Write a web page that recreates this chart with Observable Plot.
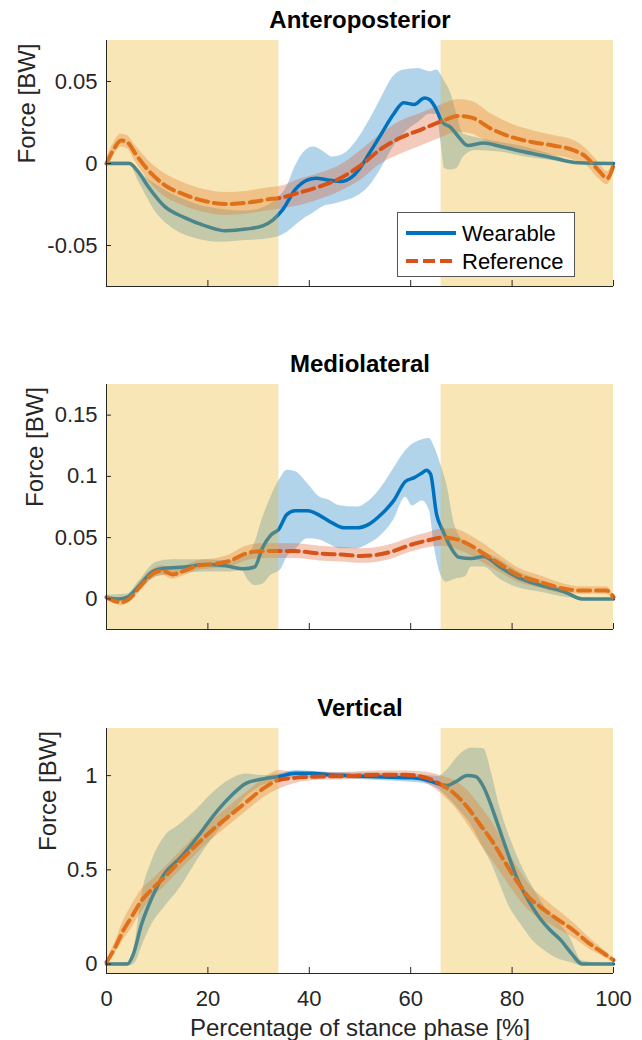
<!DOCTYPE html>
<html>
<head>
<meta charset="utf-8">
<script src="https://cdn.jsdelivr.net/npm/d3@7"></script>
<script src="https://cdn.jsdelivr.net/npm/@observablehq/plot@0.6"></script>
<style>
  body { margin: 0; background: #fff; }
  #chart { position: relative; width: 642px; height: 1040px; font-family: "Liberation Sans", Arial, Helvetica, sans-serif; }
  #chart > svg { position: absolute; left: 0; overflow: visible; }
  #legend { position: absolute; background: #fff; border: 1px solid #555; box-sizing: border-box; }
</style>
</head>
<body>
<div id="chart"></div>
<script>
// ---------- labels ----------
const titles = ["Anteroposterior", "Mediolateral", "Vertical"];
const yLabel = "Force [BW]";
const xLabel = "Percentage of stance phase [%]";
const legendLabels = ["Wearable", "Reference"];
const xTicks = [0, 20, 40, 60, 80, 100];
const apTicks = [-0.05, 0, 0.05];
const mlTicks = [0, 0.05, 0.1, 0.15];
const vTicks = [0, 0.5, 1];
const shadeStart = [0, 66];
const shadeEnd = [34, 100];

// ---------- Anteroposterior ----------
const apWearX = [0,4.5,6,8.2,11.4,15.4,19.5,23.5,27.5,30.8,32.8,34.8,37.2,39.7,41.3,43.7,46.1,48.5,50.2,51.8,54.2,56.6,58.6,60.7,62.7,63.7,64.7,66.3,67.9,69.5,71.2,74.4,77.6,82.5,87.3,93,100];
const apWearY = [0,0,-0.004,-0.014,-0.026,-0.033,-0.038,-0.041,-0.040,-0.038,-0.0345,-0.028,-0.016,-0.010,-0.009,-0.010,-0.011,-0.008,-0.002,0.006,0.018,0.030,0.037,0.036,0.040,0.039,0.035,0.025,0.022,0.016,0.011,0.0125,0.0105,0.007,0.004,0.0004,0];
const apWearBandX = [0,4.5,6.5,9.8,13.8,17.9,22.7,27.5,31.6,33.5,35.6,37.2,39.3,40.9,42.9,44.5,46.9,49.4,51.8,54.2,56.6,58.6,61.5,63.9,65.2,66.0,66.7,67.9,69.1,70.4,72.7,77.6,82.5,87.3,93,100];
const apWearLo = [-0.001,-0.001,-0.012,-0.030,-0.041,-0.046,-0.048,-0.047,-0.046,-0.045,-0.042,-0.038,-0.033,-0.030,-0.026,-0.025,-0.023,-0.020,-0.014,-0.003,0.010,0.018,0.025,0.030,0.030,0.012,-0.003,-0.004,-0.003,0.004,0.008,0.007,0.004,0.002,0,0];
const apWearHi = [0.001,0.001,-0.005,-0.013,-0.020,-0.025,-0.028,-0.029,-0.026,-0.022,-0.014,-0.002,0.008,0.010,0.007,0.004,0.006,0.014,0.026,0.040,0.053,0.057,0.058,0.056,0.057,0.054,0.050,0.043,0.030,0.018,0.016,0.013,0.010,0.006,0.001,0];
const apRefX = [0,1.3,2.9,4.1,5.7,8.2,11.4,15.4,19.5,23.5,27.5,31.6,34.8,38,42.1,46.1,50.2,54.2,58.2,62.3,66.3,69.5,72,76,80,84.1,88.1,92.2,94.6,97,98.8,100];
const apRefY = [0,0.008,0.014,0.013,0.006,-0.004,-0.013,-0.019,-0.023,-0.0247,-0.024,-0.022,-0.0206,-0.0178,-0.014,-0.009,-0.001,0.009,0.016,0.021,0.026,0.029,0.028,0.021,0.016,0.013,0.011,0.008,0.004,-0.004,-0.009,-0.001];
const apRefSd = [0.003,0.004,0.004,0.004,0.005,0.006,0.007,0.007,0.007,0.007,0.007,0.007,0.007,0.008,0.008,0.008,0.009,0.009,0.010,0.010,0.010,0.010,0.010,0.009,0.008,0.007,0.006,0.006,0.005,0.005,0.004,0.003];

// ---------- Mediolateral ----------
const mlWearX = [0,2.5,4.1,6.5,9,11.4,15.4,19.5,23.5,27.1,29.2,30.8,32.4,34,35.6,37.2,39.7,42.1,44.5,46.9,49.4,51.8,54.2,56.6,59,60.7,62.3,63.1,63.9,65.1,66.3,67.9,69.5,72,74.4,77.6,80.9,85.7,90.5,93.8,100];
const mlWearY = [0.001,0,0.0014,0.011,0.022,0.025,0.026,0.028,0.027,0.0245,0.026,0.042,0.052,0.057,0.069,0.072,0.072,0.068,0.062,0.058,0.058,0.061,0.069,0.080,0.096,0.099,0.103,0.105,0.102,0.069,0.056,0.042,0.034,0.033,0.0345,0.026,0.018,0.011,0.0054,0,0];
const mlWearBandX = [0,4.1,6.5,9.8,13,19.5,24.3,26.7,28,29.2,30.8,32.4,34.4,35.6,37.2,39.7,42.1,43.7,46.1,49.4,51.8,54.2,56.6,59,60.3,62.3,63.7,64.7,65.9,67.1,68.7,70.8,72,74.4,77.6,80.9,85.7,90.5,93.8,100];
const mlWearLo = [-0.002,-0.001,0.007,0.018,0.020,0.022,0.022,0.023,0.015,0.011,0.012,0.019,0.024,0.034,0.040,0.049,0.048,0.045,0.041,0.041,0.045,0.052,0.064,0.083,0.076,0.080,0.072,0.042,0.020,0.0136,0.016,0.018,0.026,0.026,0.016,0.0095,0.0054,0.0014,0,0];
const mlWearHi = [0.003,0.004,0.015,0.030,0.032,0.032,0.031,0.034,0.036,0.045,0.066,0.083,0.099,0.105,0.104,0.094,0.083,0.081,0.076,0.075,0.080,0.091,0.106,0.121,0.126,0.130,0.131,0.124,0.110,0.094,0.060,0.046,0.042,0.038,0.032,0.023,0.015,0.007,0.001,0];
const mlRefX = [0,1.3,2.9,4.5,6.5,9,11,13,15.4,17.9,21.1,24.3,27.5,30.8,34,37.2,42.1,46.9,50.2,53.4,56.6,59.9,63.1,66.3,68.7,71.2,74.4,77.6,80.9,85.7,90.5,93.8,98.6,100];
const mlRefY = [0.0014,-0.0014,-0.0027,0,0.0095,0.020,0.023,0.020,0.023,0.027,0.0285,0.031,0.037,0.039,0.039,0.039,0.037,0.036,0.035,0.036,0.039,0.044,0.0475,0.050,0.049,0.045,0.037,0.0285,0.020,0.0136,0.008,0.0068,0.0068,0.0014];
const mlRefSd = [0.002,0.002,0.003,0.003,0.004,0.004,0.004,0.004,0.004,0.004,0.004,0.005,0.006,0.006,0.006,0.006,0.006,0.006,0.006,0.006,0.006,0.006,0.006,0.007,0.008,0.008,0.008,0.007,0.006,0.005,0.004,0.003,0.003,0.002];

// ---------- Vertical ----------
const vWearX = [0,4.1,5.3,6.9,9,11.4,14.6,17.9,21.1,24.3,27.5,30.8,34,37.2,40.5,43.7,47.7,51.8,55.8,59.9,63.1,65.5,67.1,68.7,71.2,72.8,74.4,76,77.6,79.2,80.9,82.5,84.9,87.3,89.7,91.8,93.8,100];
const vWearY = [0,0,0.053,0.21,0.354,0.478,0.566,0.673,0.788,0.885,0.959,0.982,0.995,1.012,1.012,1.005,1.0,0.995,0.991,0.988,0.977,0.956,0.947,0.965,1.0,0.995,0.938,0.832,0.708,0.584,0.46,0.372,0.265,0.186,0.124,0.053,0,0];
const vWearBandX = [0,4.5,5.7,6.9,9,11.4,14.6,17.9,21.1,24.3,27.5,30.8,34,37.2,43.7,51.8,59.9,63.1,65.5,67.1,69.5,72,74.4,76,77.6,79.2,81.7,84.1,86.5,88.9,91.4,93.8,100];
const vWearLo = [-0.005,-0.01,0.009,0.088,0.212,0.30,0.407,0.549,0.673,0.779,0.885,0.947,0.973,0.988,0.988,0.977,0.965,0.956,0.929,0.89,0.82,0.735,0.61,0.53,0.425,0.319,0.212,0.124,0.070,0.030,0.010,-0.009,0];
const vWearHi = [0.005,0.01,0.12,0.354,0.549,0.673,0.743,0.823,0.912,0.977,1.009,1.0,1.009,1.027,1.018,1.012,1.009,1.0,0.995,1.027,1.106,1.147,1.142,1.009,0.832,0.700,0.531,0.407,0.301,0.230,0.142,0.018,0];
const vRefX = [0,1.7,3.3,4.9,6.9,9,11.4,14.6,17.9,21.1,24.3,27.5,30.8,34,37.2,42.1,47.7,53.4,59,63.1,66.3,68.7,71.2,73.6,76,78.4,80.9,83.3,85.7,88.9,92.2,95.4,97.8,100];
const vRefY = [0.009,0.088,0.177,0.248,0.336,0.398,0.46,0.549,0.637,0.717,0.788,0.858,0.929,0.977,0.988,0.995,0.998,1.005,1.005,0.988,0.947,0.903,0.832,0.743,0.655,0.549,0.442,0.354,0.301,0.239,0.177,0.106,0.062,0.021];
const vRefSd = [0.01,0.03,0.05,0.06,0.06,0.05,0.05,0.05,0.05,0.05,0.05,0.05,0.05,0.05,0.03,0.02,0.02,0.02,0.02,0.03,0.05,0.07,0.09,0.10,0.10,0.09,0.08,0.07,0.06,0.05,0.04,0.03,0.02,0.01];

// ---------- helpers ----------
const FONT = '"Liberation Sans", Arial, Helvetica, sans-serif';
const BLUE = "#0072BD", ORANGE = "#D95319", YELLOW = "#EDB120", AXIS = "#262626";
const W = 642, ML = 106, MR = 29;
const pts = (xs, ys) => xs.map((x, i) => ({x, y: ys[i]}));
const bandOf = (xs, lo, hi) => xs.map((x, i) => ({x, lo: lo[i], hi: hi[i]}));
const refBand = (xs, ys, sd) => xs.map((x, i) => ({x, lo: ys[i] - sd[i], hi: ys[i] + sd[i]}));
const shades = shadeStart.map((s, i) => ({start: s, end: shadeEnd[i]}));

const panels = [
  {title: titles[0], yDomain: [-0.075, 0.075], yTicks: apTicks, top: 0, height: 343, mt: 40, mb: 57, ylabelX: 26.5,
   wear: pts(apWearX, apWearY), wearBand: bandOf(apWearBandX, apWearLo, apWearHi),
   ref: pts(apRefX, apRefY), refBand: refBand(apRefX, apRefY, apRefSd), showX: false},
  {title: titles[1], yDomain: [-0.025, 0.175], yTicks: mlTicks, top: 343, height: 343, mt: 41, mb: 57, ylabelX: 34.5,
   wear: pts(mlWearX, mlWearY), wearBand: bandOf(mlWearBandX, mlWearLo, mlWearHi),
   ref: pts(mlRefX, mlRefY), refBand: refBand(mlRefX, mlRefY, mlRefSd), showX: false},
  {title: titles[2], yDomain: [-0.05, 1.25], yTicks: vTicks, top: 686, height: 354, mt: 42, mb: 67, ylabelX: 48,
   wear: pts(vWearX, vWearY), wearBand: bandOf(vWearBandX, vWearLo, vWearHi),
   ref: pts(vRefX, vRefY), refBand: refBand(vRefX, vRefY, vRefSd), showX: true}
];

const chart = document.getElementById("chart");

for (const p of panels) {
  const frameW = W - ML - MR;
  const frameH = p.height - p.mt - p.mb;
  const marks = [
    Plot.areaY(p.wearBand, {x: "x", y1: "lo", y2: "hi", fill: BLUE, fillOpacity: 0.3, curve: "monotone-x"}),
    Plot.areaY(p.refBand, {x: "x", y1: "lo", y2: "hi", fill: ORANGE, fillOpacity: 0.3, curve: "monotone-x"}),
    Plot.line(p.wear, {x: "x", y: "y", stroke: BLUE, strokeWidth: 3.5, curve: "monotone-x"}),
    Plot.line(p.ref, {x: "x", y: "y", stroke: ORANGE, strokeWidth: 4, strokeDasharray: "12,6", curve: "monotone-x"}),
    Plot.rect(shades, {x1: "start", x2: "end", fill: YELLOW, fillOpacity: 0.32}),
    Plot.ruleX([0], {stroke: AXIS}),
    Plot.ruleY([p.yDomain[0]], {stroke: AXIS}),
    Plot.tickY(p.yTicks, {y: d => d, stroke: AXIS, insetRight: frameW - 5}),
    Plot.tickX(xTicks, {x: d => d, stroke: AXIS, insetTop: frameH - 6}),
    Plot.axisY(p.yTicks, {tickSize: 0, tickPadding: 9, tickFormat: d => String(d), fontSize: 22, label: null}),
    Plot.text([p.title], {text: d => d, frameAnchor: "top", dy: -20, fontSize: 24, fontWeight: "bold", fill: "#000", lineAnchor: "middle"}),
    Plot.text([yLabel], {text: d => d, frameAnchor: "left", dx: p.ylabelX - ML, rotate: -90, fontSize: 24, fill: AXIS, lineAnchor: "middle"})
  ];
  if (p.showX) {
    marks.push(Plot.axisX(xTicks, {tickSize: 0, tickPadding: 17, tickFormat: d => String(d), fontSize: 22, label: null}));
    marks.push(Plot.text([xLabel], {text: d => d, frameAnchor: "bottom", dy: 55, fontSize: 24, fill: AXIS, lineAnchor: "middle"}));
  }
  const svg = Plot.plot({
    width: W, height: p.height,
    marginLeft: ML, marginRight: MR, marginTop: p.mt, marginBottom: p.mb,
    x: {domain: [0, 100], ...(p.showX ? {} : {axis: null})},
    y: {domain: p.yDomain},
    style: {fontFamily: FONT, fontSize: "22px", color: AXIS, background: "transparent", overflow: "visible"},
    marks
  });
  svg.style.top = p.top + "px";
  chart.appendChild(svg);
}

// ---------- legend (panel 1) ----------
const legend = document.createElement("div");
legend.id = "legend";
Object.assign(legend.style, {left: "397px", top: "212px", width: "178px", height: "65px"});
const lsvg = d3.create("svg").attr("width", 176).attr("height", 63).style("position", "absolute").style("left", "0").style("top", "0");
const legendColors = [BLUE, ORANGE];
const legendDash = [null, "12,5"];
legendLabels.forEach((lab, i) => {
  const cy = 20 + i * 28;
  lsvg.append("line").attr("x1", 8).attr("x2", 58).attr("y1", cy).attr("y2", cy)
    .attr("stroke", legendColors[i]).attr("stroke-width", 4).attr("stroke-dasharray", legendDash[i]);
  lsvg.append("text").attr("x", 64).attr("y", cy).attr("dy", "0.36em")
    .attr("font-family", FONT).attr("font-size", 22).attr("fill", "#000").text(lab);
});
legend.appendChild(lsvg.node());
chart.appendChild(legend);
</script>
</body>
</html>
